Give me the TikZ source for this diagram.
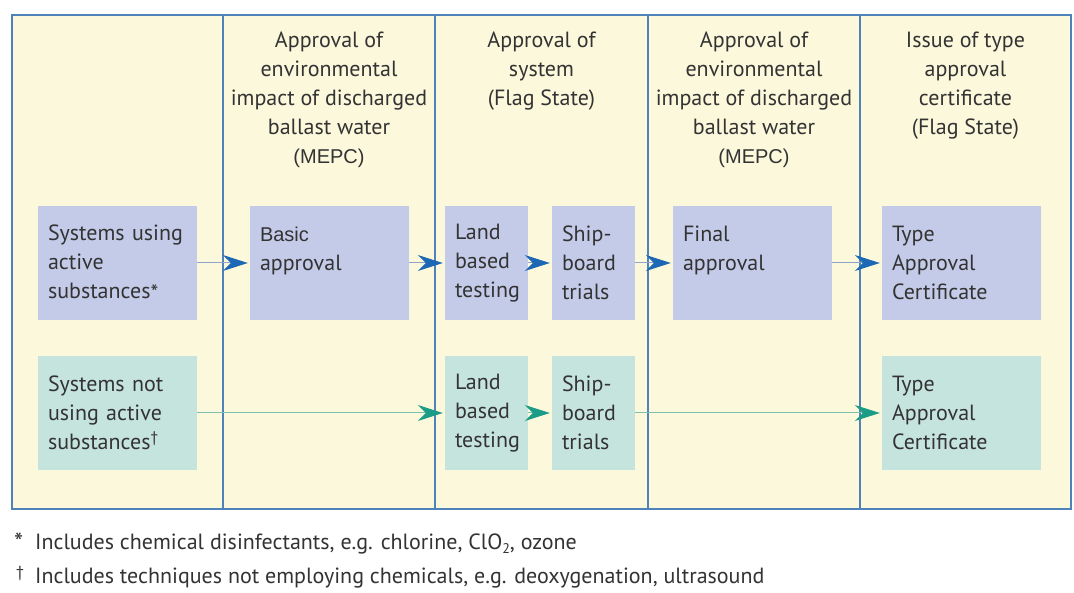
\documentclass[tikz,border=0pt]{standalone}
\usepackage{fontspec}
\setmainfont{PT Sans}
\newfontfamily\arialf{Liberation Sans}
\usetikzlibrary{arrows.meta}
\definecolor{cream}{HTML}{FCF8DC}
\definecolor{framec}{HTML}{4F82B9}
\definecolor{boxblue}{HTML}{C4CBE8}
\definecolor{boxteal}{HTML}{C6E4DE}
\definecolor{txt}{HTML}{333333}
\definecolor{ablue}{HTML}{1C68B4}
\definecolor{lblue}{HTML}{8DA5CC}
\definecolor{agreen}{HTML}{1A9C86}
\definecolor{lgreen}{HTML}{7CC0B0}
\begin{document}
\begin{tikzpicture}[x=1pt,y=-1pt,
  every node/.style={text=txt, inner sep=0pt},
  mainfont/.style={font=\fontsize{22}{29}\selectfont},
  box/.style={mainfont, rectangle, minimum height=114pt, align=left, inner xsep=10pt},
  wide/.style={box, text width=139pt},
  narrow/.style={box, text width=63pt},
  bfill/.style={fill=boxblue},
  tfill/.style={fill=boxteal},
  head/.style={mainfont, align=center, anchor=north},
  note/.style={font=\fontsize{22}{26}\selectfont, anchor=base west},
  barrow/.style={draw=lblue, line width=1pt, shorten >=2pt,
    -{Stealth[length=25pt,width=16pt,inset=8pt,color=ablue]}},
  garrow/.style={draw=lgreen, line width=1pt, shorten >=2pt,
    -{Stealth[length=25pt,width=16pt,inset=8pt,color=agreen]}}
]
\useasboundingbox (0,0) rectangle (1074,593);
\fill[white] (0,0) rectangle (1074,593);
\fill[cream] (12,15) rectangle (1071,509);
\foreach \x in {223,435,648,860} \draw[framec, line width=1.4pt] (\x,15) -- (\x,509);
\draw[framec, line width=1.4pt] (12,15) rectangle (1071,509);

% headers
\node[head] (h2) at (329,32) {Approval of\\environmental\\impact of discharged\\ballast water\\{\arialf\fontsize{20}{29}\selectfont (MEPC)}};
\node[head] (h3) at (541.5,32) {Approval of\\system\\(Flag State)};
\node[head] (h4) at (754,32) {Approval of\\environmental\\impact of discharged\\ballast water\\{\arialf\fontsize{20}{29}\selectfont (MEPC)}};
\node[head] (h5) at (965.5,32) {Issue of type\\approval\\certificate\\(Flag State)};

% row 1
\node[wide,bfill] (a1) at (117.5,263) {Systems using\\active\\substances\raisebox{-2pt}{*}};
\node[wide,bfill] (b1) at (329.5,263) {{\arialf\fontsize{20}{29}\selectfont Basic}\\approval\\\mbox{}};
\node[narrow,bfill] (l1) at (486.5,263) {Land\\based\\testing};
\node[narrow,bfill] (s1) at (593.5,263) {Ship-\\board\\trials};
\node[wide,bfill] (f1) at (752.5,263) {Final\\approval\\\mbox{}};
\node[wide,bfill] (t1) at (961.5,263) {Type\\Approval\\Certificate};

% row 2
\node[wide,tfill] (a2) at (117.5,413) {Systems not\\using active\\substances\textsuperscript{†}};
\node[narrow,tfill] (l2) at (486.5,413) {Land\\based\\testing};
\node[narrow,tfill] (s2) at (593.5,413) {Ship-\\board\\trials};
\node[wide,tfill] (t2) at (961.5,413) {Type\\Approval\\Certificate};

% arrows
\draw[barrow] (a1.east) -- (b1.west);
\draw[barrow] (b1.east) -- (l1.west);
\draw[barrow] (l1.east) -- (s1.west);
\draw[barrow] (s1.east) -- (f1.west);
\draw[barrow] (f1.east) -- (t1.west);
\draw[garrow] (a2.east) -- (l2.west);
\draw[garrow] (l2.east) -- (s2.west);
\draw[garrow] (s2.east) -- (t2.west);

% footnotes
\node[note] (n1m) at (14,551) {\fontsize{26}{26}\selectfont *};
\node[note] (n2m) at (16,583) {\raisebox{6pt}{\fontsize{16}{16}\selectfont †}};
\node[note] (n1) at (35,549) {Includes chemical disinfectants, e.g. chlorine, ClO\raisebox{-4pt}{\fontsize{14}{14}\selectfont 2}, ozone};
\node[note] (n2) at (35,583) {Includes techniques not employing chemicals, e.g. deoxygenation, ultrasound};
\end{tikzpicture}
\end{document}
